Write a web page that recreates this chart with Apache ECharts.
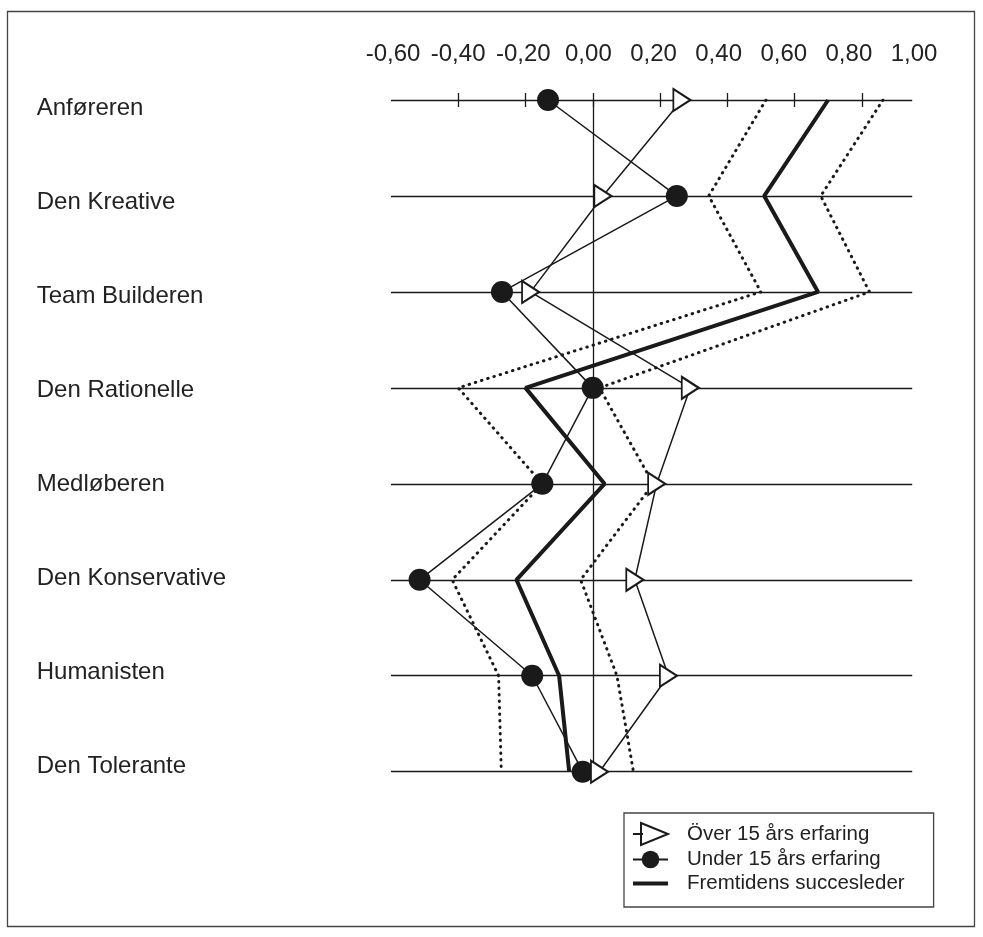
<!DOCTYPE html>
<html>
<head>
<meta charset="utf-8">
<script src="https://cdn.jsdelivr.net/npm/echarts@6/dist/echarts.min.js"></script>
<style>html,body{margin:0;padding:0;background:#fff}#c{width:983px;height:937px}</style>
</head>
<body>
<div id="c"></div>
<script>
const categories = ['Anføreren', 'Den Kreative', 'Team Builderen', 'Den Rationelle', 'Medløberen', 'Den Konservative', 'Humanisten', 'Den Tolerante'];
const overValues = [0.265, 0.03, -0.185, 0.29, 0.19, 0.125, 0.225, 0.02];
const underValues = [-0.133, 0.25, -0.27, 0.0, -0.15, -0.515, -0.18, -0.03];
const futureValues = [0.70, 0.51, 0.67, -0.20, 0.035, -0.227, -0.10, -0.07];
const lowerValues = [0.515, 0.345, 0.50, -0.40, -0.15, -0.418, -0.28, -0.272];
const upperValues = [0.863, 0.678, 0.823, 0.02, 0.18, -0.036, 0.072, 0.121];
const tickValues = [-0.6, -0.4, -0.2, 0, 0.2, 0.4, 0.6, 0.8, 1.0];
const tickLabels = ['-0,60', '-0,40', '-0,20', '0,00', '0,20', '0,40', '0,60', '0,80', '1,00'];
const innerTickValues = [-0.4, -0.2, 0, 0.2, 0.4, 0.6, 0.8];
const legendNames = ['Över 15 års erfaring', 'Under 15 års erfaring', 'Fremtidens succesleder'];

const FONT = '"Liberation Sans", Arial, Helvetica, sans-serif';
const INK = '#1a1a1a';
const TXT = '#222';
const X_MIN = -0.6, X_MAX = 1.0, ROW_END = 0.95;

const pairs = vals => categories.map((c, i) => [vals[i], c]);
const rowLines = categories.map(c => [{ coord: [X_MIN, c] }, { coord: [ROW_END, c] }]);
rowLines.push([{ coord: [0, categories[0]] }, { coord: [0, categories[categories.length - 1]] }]);

const chart = echarts.init(document.getElementById('c'), null, { renderer: 'canvas' });
const tickAxis = inside => ({
  gridIndex: 0, type: 'value', position: 'top', min: X_MIN, max: X_MAX, interval: 0.2,
  axisLine: { show: false },
  axisTick: { show: true, inside: inside, length: 7, customValues: innerTickValues, lineStyle: { color: INK, width: 1.3 } },
  axisLabel: { show: false }, splitLine: { show: false }
});

chart.setOption({
  animation: false,
  backgroundColor: '#fff',
  textStyle: { fontFamily: FONT },
  grid: [
    { left: 391, right: 54, top: 100, height: 671.7 },
    { left: 393, width: 521, top: 108.5, height: 658 }
  ],
  xAxis: [
    tickAxis(true),
    tickAxis(false),
    {
      gridIndex: 1, type: 'value', position: 'top', offset: 54.5, min: X_MIN, max: X_MAX, interval: 0.2,
      axisLine: { show: false }, axisTick: { show: false }, splitLine: { show: false },
      axisLabel: {
        customValues: tickValues, margin: 0, verticalAlign: 'middle', fontSize: 24, color: TXT, fontFamily: FONT,
        formatter: v => { const i = tickValues.findIndex(t => Math.abs(t - v) < 1e-6); return i >= 0 ? tickLabels[i] : ''; }
      }
    }
  ],
  yAxis: [
    {
      gridIndex: 0, type: 'category', data: categories, inverse: true, boundaryGap: false,
      axisLine: { show: false }, axisTick: { show: false }, axisLabel: { show: false }, splitLine: { show: false }
    },
    {
      gridIndex: 1, type: 'category', data: categories, inverse: true, boundaryGap: false,
      axisLine: { show: false }, axisTick: { show: false }, splitLine: { show: false },
      axisLabel: { interval: 0, align: 'left', margin: 356.3, fontSize: 24, color: TXT, fontFamily: FONT }
    }
  ],
  legend: {
    data: [
      { name: legendNames[0], icon: 'path://M0,12L10,12M8,1L35,12L8,23Z', itemStyle: { color: '#fff', borderColor: INK, borderWidth: 2 } },
      { name: legendNames[1] },
      { name: legendNames[2], itemStyle: { color: 'rgba(0,0,0,0)', borderColor: 'rgba(0,0,0,0)', borderWidth: 0 }, lineStyle: { width: 4, color: INK } }
    ],
    orient: 'vertical', left: 624, top: 813,
    padding: [9, 29, 13, 7], itemGap: 3, itemWidth: 35, itemHeight: 22,
    borderColor: '#444', borderWidth: 1.3, selectedMode: false,
    textStyle: { fontSize: 20.5, color: TXT, fontFamily: FONT, padding: [0, 0, 0, 14] }
  },
  graphic: [{
    type: 'rect', silent: true, z: -10,
    shape: { x: 7.5, y: 11.5, width: 967, height: 915 },
    style: { fill: null, stroke: '#444', lineWidth: 1.3 }
  }],
  series: [
    {
      name: 'lower', type: 'line', xAxisIndex: 0, yAxisIndex: 0, data: pairs(lowerValues),
      symbol: 'none', silent: true, z: 2,
      lineStyle: { color: INK, width: 3, type: [0.5, 6], cap: 'round' },
      markLine: {
        silent: true, symbol: 'none', label: { show: false },
        lineStyle: { color: INK, width: 1.3, type: 'solid' },
        data: rowLines
      }
    },
    {
      name: 'upper', type: 'line', xAxisIndex: 0, yAxisIndex: 0, data: pairs(upperValues),
      symbol: 'none', silent: true, z: 2,
      lineStyle: { color: INK, width: 3, type: [0.5, 6], cap: 'round' }
    },
    {
      name: legendNames[2], type: 'line', xAxisIndex: 0, yAxisIndex: 0, data: pairs(futureValues),
      symbol: 'none', z: 3, itemStyle: { color: INK },
      lineStyle: { color: INK, width: 4 }
    },
    {
      name: legendNames[1], type: 'line', xAxisIndex: 0, yAxisIndex: 0, data: pairs(underValues),
      symbol: 'circle', symbolSize: 22, z: 4, itemStyle: { color: INK },
      lineStyle: { color: INK, width: 1.5 }
    },
    {
      name: legendNames[0], type: 'line', xAxisIndex: 0, yAxisIndex: 0, data: pairs(overValues),
      symbol: 'path://M0,0L17,11L0,22Z', symbolSize: [17, 22], symbolKeepAspect: false, z: 5,
      itemStyle: { color: '#fff', borderColor: INK, borderWidth: 2 },
      lineStyle: { color: INK, width: 1.5 }
    }
  ]
});
</script>
</body>
</html>
